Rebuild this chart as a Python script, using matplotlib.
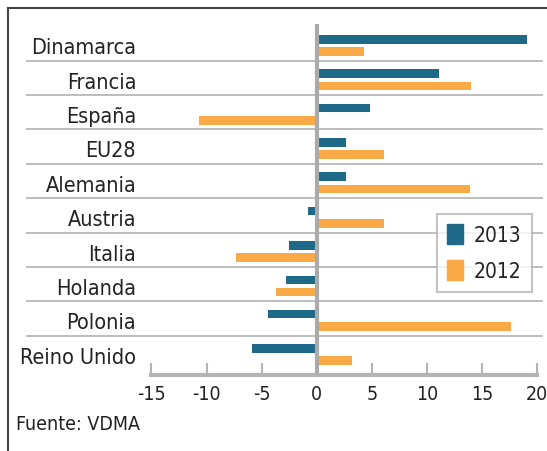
import matplotlib
matplotlib.use("Agg")
import matplotlib.pyplot as plt
from matplotlib.lines import Line2D
from matplotlib.patches import Patch
import matplotlib.font_manager as fm

countries = ["Dinamarca", "Francia", "España", "EU28", "Alemania",
             "Austria", "Italia", "Holanda", "Polonia", "Reino Unido"]
v2013 = [19.1, 11.1, 4.8, 2.7, 2.7, -0.8, -2.5, -2.8, -4.4, -5.9]
v2012 = [4.3, 14.0, -10.7, 6.1, 13.9, 6.1, -7.3, -3.7, 17.6, 3.2]
xticks = [-15, -10, -5, 0, 5, 10, 15, 20]

blue = "#1e6888"
orange = "#f9a945"
grey = "#b4b4b4"

# pick a narrow font if there is one
names = {f.name for f in fm.fontManager.ttflist}
fam = "Liberation Sans Narrow" if "Liberation Sans Narrow" in names else "DejaVu Sans"
plt.rcParams["font.family"] = [fam, "DejaVu Sans"]
if fam == "DejaVu Sans":
    plt.rcParams["font.stretch"] = "condensed"

W, H = 547, 452
fig = plt.figure(figsize=(W / 100, H / 100), dpi=100)
ax = fig.add_axes([151.5 / W, 1 - 375.5 / H, (537 - 151.5) / W, (375.5 - 25) / H])

pos = list(range(len(countries)))
ax.barh([p - 0.177 for p in pos], v2013, height=0.25, color=blue, zorder=3)
ax.barh([p + 0.177 for p in pos], v2012, height=0.25, color=orange, zorder=3)

ax.set_xlim(-15, 20)
ax.set_ylim(9.58, -0.624)
ax.axvline(0, color="#aaaaaa", lw=3, zorder=4)

# row separators reach into the label area
for p in pos[:-1]:
    ax.plot([-0.324, 1.013], [p + 0.446, p + 0.446], transform=ax.get_yaxis_transform(),
            color="#bdbdbd", lw=1.4, clip_on=False, zorder=1)

for s in ["top", "right", "left"]:
    ax.spines[s].set_visible(False)
ax.spines["bottom"].set_color(grey)
ax.spines["bottom"].set_linewidth(3)
ax.set_xticks(xticks)
ax.set_xticklabels([str(t) for t in xticks])
ax.tick_params(axis="x", direction="in", length=9, width=1.5, color=grey,
               labelsize=14, labelcolor="#222222", pad=7)
ax.set_yticks(pos)
ax.set_yticklabels(countries)
ax.tick_params(axis="y", length=0, labelsize=15.5, labelcolor="#222222", pad=11)

handles = [Patch(color=blue, label="2013"), Patch(color=orange, label="2012")]
leg = fig.legend(handles=handles, loc="upper left", bbox_to_anchor=(437 / W, 1 - 215 / H),
                 fontsize=15, frameon=True, fancybox=False, handlelength=0.75, handleheight=1.1,
                 borderpad=0.5, labelspacing=0.7, handletextpad=0.5, borderaxespad=0)
leg.get_frame().set_edgecolor(grey)
leg.get_frame().set_linewidth(1.5)
for t in leg.get_texts():
    t.set_color("#222222")

fig.text(16 / W, 1 - 425 / H, "Fuente: VDMA", fontsize=14, color="#222222", va="center")

# outer frame (left and top edges)
fig.add_artist(Line2D([7.5 / W, 7.5 / W], [0, 1 - 9 / H], color="#444444", lw=1.5))
fig.add_artist(Line2D([7.5 / W, 1], [1 - 9 / H, 1 - 9 / H], color="#444444", lw=1.5))

fig.savefig("out.png", dpi=100)
